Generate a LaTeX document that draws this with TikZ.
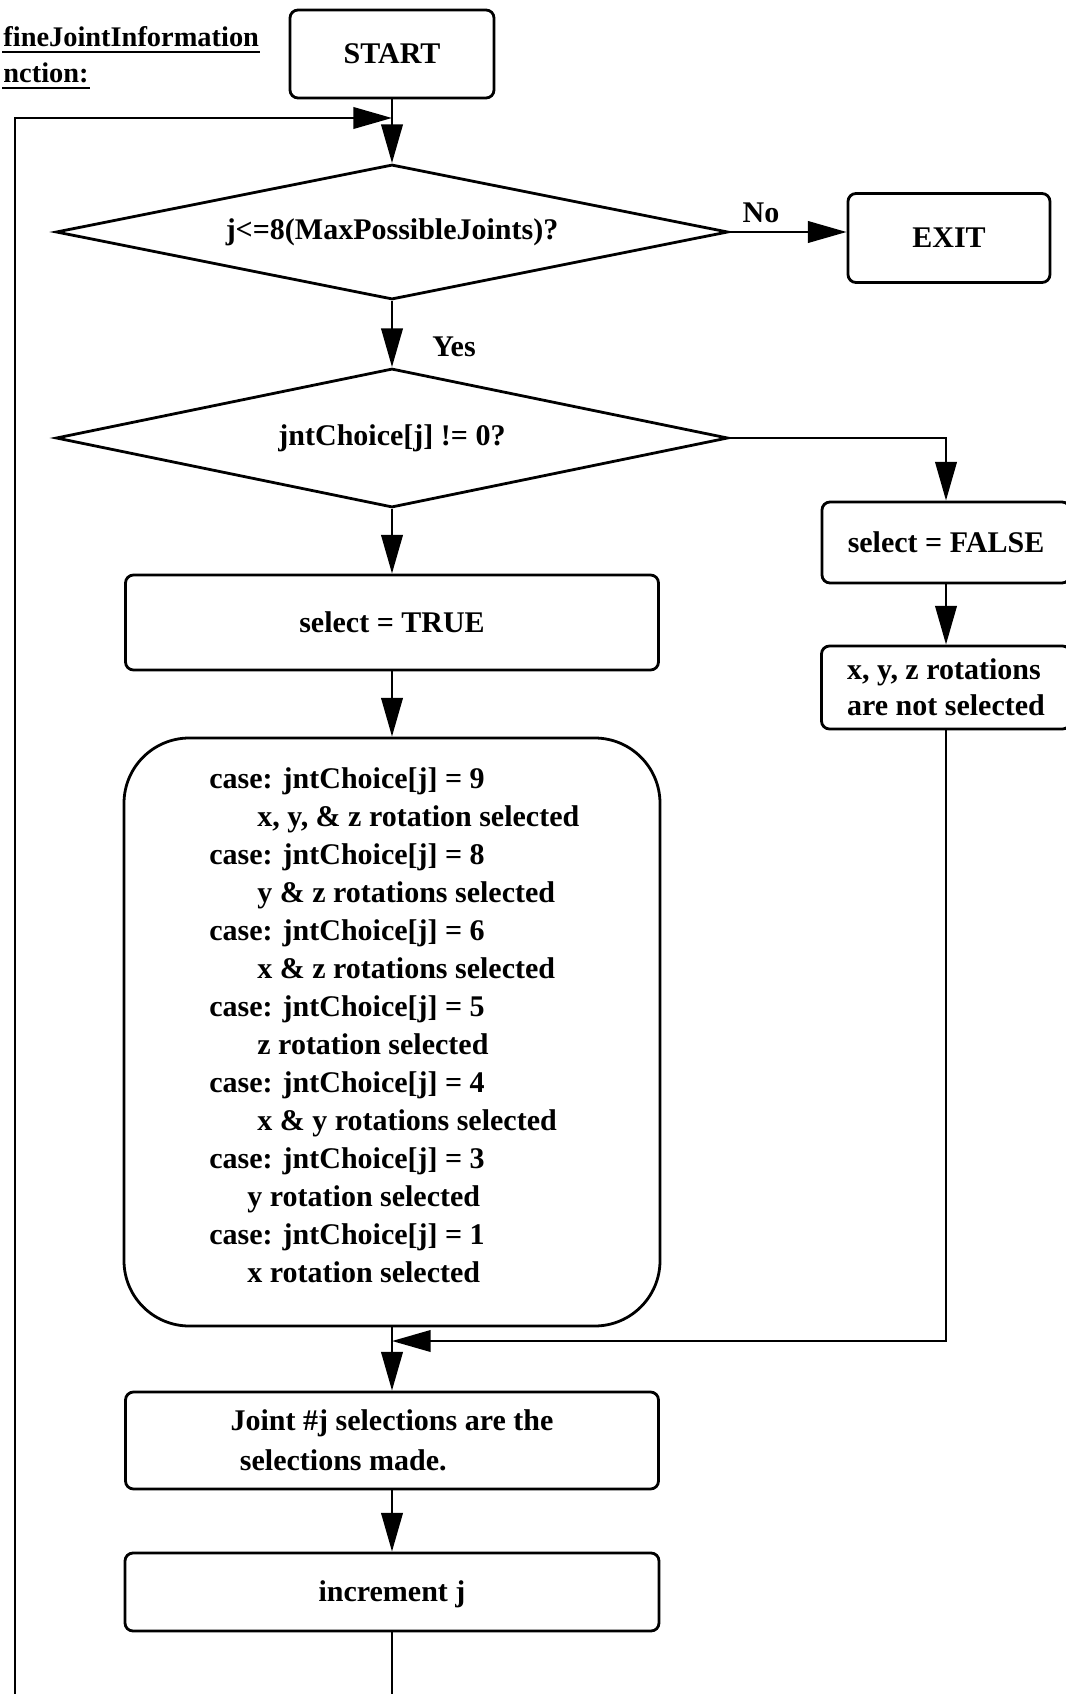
\documentclass[tikz,border=0pt]{standalone}
\usepackage{fontspec}
\setmainfont{Liberation Serif}
\usetikzlibrary{arrows.meta,shapes.geometric}
\begin{document}
\begin{tikzpicture}[x=0.75pt,y=-0.75pt,
  line width=2.1pt,
  every node/.style={font=\fontsize{22.5}{27}\selectfont\bfseries, inner sep=0pt},
  box/.style={draw, rounded corners=6pt},
  dec/.style={draw, diamond, aspect=5},
  arr/.style={-{Triangle[length=29pt,width=16pt]}},
  heading/.style={anchor=base west, font=\fontsize{21.3}{26}\selectfont\bfseries}
]
\useasboundingbox[fill=white] (0,0) rectangle (1066,1694);

% heading
\node[heading] (ttl1) at (2,47) {fineJointInformation};
\node[heading] (ttl2) at (2,83) {nction:};
\draw[line width=1.5pt] ([yshift=-4pt]ttl1.base west) -- ([yshift=-4pt]ttl1.base east);
\draw[line width=1.5pt] ([yshift=-4pt]ttl2.base west) -- ([yshift=-4pt]ttl2.base east);

% main column
\node[box, minimum width=153pt, minimum height=66pt] (start) at (392,54) {START};
\node[dec, minimum width=504pt, minimum height=101.25pt] (d1) at (392,232) {j<=8(MaxPossibleJoints)?};
\node[box, minimum width=151.5pt, minimum height=66.75pt] (exit) at (949,238) {EXIT};
\node[dec, minimum width=504pt, minimum height=104.25pt] (d2) at (392,438) {jntChoice[j] != 0?};
\node[box, minimum width=399.75pt, minimum height=71.25pt] (true) at (392,622.5) {select = TRUE};
\node[box, rounded corners=49pt, minimum width=402pt, minimum height=441pt] (cases) at (392,1032) {};
\node[box, minimum width=399.75pt, minimum height=72.75pt, align=left,
      font=\fontsize{22.5}{30}\selectfont\bfseries] (joint) at (392,1440.5)
      {Joint \#j selections are the\\\hspace*{7pt}selections made.};
\node[box, minimum width=400.5pt, minimum height=58.5pt, text depth=2pt] (inc) at (392,1592) {increment j};

% right column
\node[box, minimum width=186pt, minimum height=60.75pt] (false) at (946,542.5) {select = FALSE};
\node[box, minimum width=186.75pt, minimum height=62.25pt, align=left] (nosel) at (946,687.5)
      {x, y, z rotations\\are not selected};

% case listing
\foreach \xx/\t [count=\k from 0] in {
  208/{case: jntChoice[j] = 9},
  256/{x, y, \& z rotation selected},
  208/{case: jntChoice[j] = 8},
  256/{y \& z rotations selected},
  208/{case: jntChoice[j] = 6},
  256/{x \& z rotations selected},
  208/{case: jntChoice[j] = 5},
  256/{z rotation selected},
  208/{case: jntChoice[j] = 4},
  256/{x \& y rotations selected},
  208/{case: jntChoice[j] = 3},
  246/{y rotation selected},
  208/{case: jntChoice[j] = 1},
  246/{x rotation selected}}
  \node[anchor=base west] (cl\k) at (\xx,{788+38*\k}) {\t};

% branch labels
\node (no) at (761,213) {No};
\node (yes) at (454,347) {Yes};

% helper points
\coordinate (loopin) at (392,118);
\coordinate (loopL) at (15,1694);
\coordinate (tailB) at (392,1694);
\coordinate (merge) at (392,1341);

% connectors
\draw[arr] (start.south) -- (d1.north);
\draw[arr] (loopL) |- (loopin);
\draw[arr] (d1.east) -- (d1.east -| exit.west);
\draw[arr] (d1.south) -- (d2.north);
\draw[arr] (d2.east) -| (false.north);
\draw[arr] (d2.south) -- (true.north);
\draw[arr] (true.south) -- (cases.north);
\draw[arr] (false.south) -- (nosel.north);
\draw[arr] (nosel.south) |- (merge);
\draw[arr] (cases.south) -- (joint.north);
\draw[arr] (joint.south) -- (inc.north);
\draw (inc.south) -- (tailB);
\end{tikzpicture}
\end{document}
